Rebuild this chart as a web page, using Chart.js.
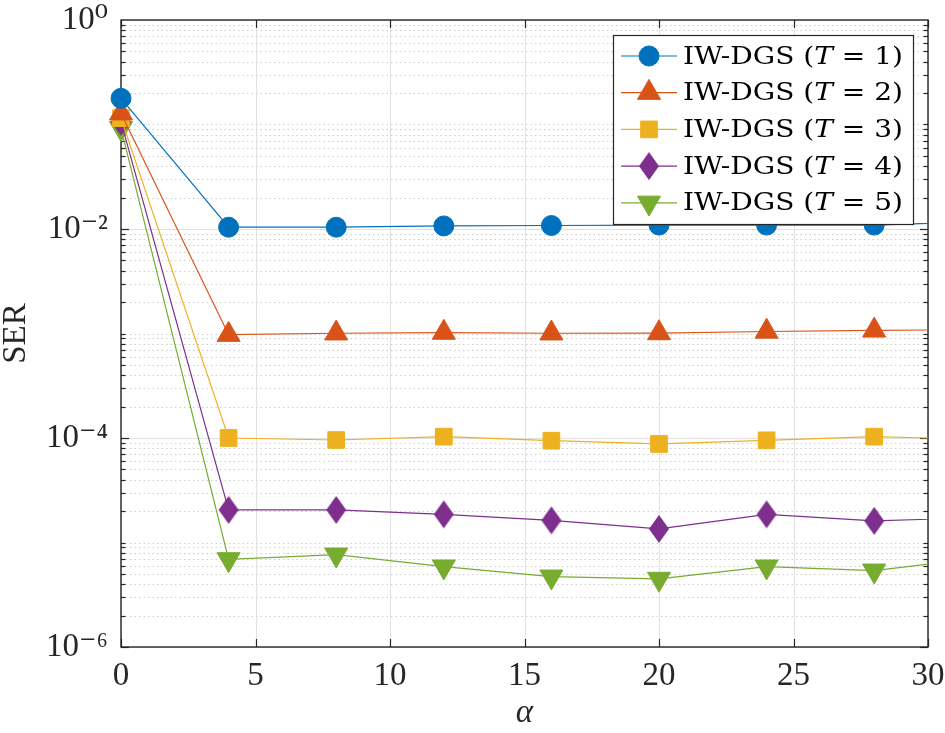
<!DOCTYPE html>
<html>
<head>
<meta charset="utf-8">
<script src="https://cdn.jsdelivr.net/npm/chart.js@4.4.1/dist/chart.umd.min.js"></script>
<style>
  html, body { margin: 0; padding: 0; background: #fff; }
</style>
</head>
<body>
<canvas id="serChart" width="945" height="733"></canvas>
<script>
// values (x = alpha, y = SER)
const alphaValues = [0, 4, 8, 12, 16, 20, 24, 28, 32];
const serT1 = [0.178, 0.0104, 0.0104, 0.0107, 0.0108, 0.0109, 0.0109, 0.0109, 0.0118];
const serT2 = [0.128, 9.74e-4, 1.005e-3, 1.02e-3, 1.005e-3, 1.01e-3, 1.045e-3, 1.07e-3, 1.09e-3];
const serT3 = [0.115, 1.0e-4, 9.57e-5, 1.03e-4, 9.42e-5, 8.77e-5, 9.5e-5, 1.03e-4, 9.7e-5];
const serT4 = [0.106, 2.05e-5, 2.05e-5, 1.86e-5, 1.63e-5, 1.35e-5, 1.86e-5, 1.61e-5, 1.73e-5];
const serT5 = [0.092, 6.9e-6, 7.64e-6, 5.87e-6, 4.71e-6, 4.48e-6, 5.87e-6, 5.37e-6, 7.2e-6];
const seriesT = ["1", "2", "3", "4", "5"];

const xTicks = [0, 5, 10, 15, 20, 25, 30];
const yTickValues = [1e-6, 1e-4, 1e-2, 1];
const yTickLabels = ["10⁻⁶", "10⁻⁴", "10⁻²", "10⁰"];

const serif = "'Liberation Serif', 'DejaVu Serif', serif";
const legendFont = "'DejaVu Serif', 'Liberation Serif', serif";
const axisColor = "#262626";

// MATLAB-like tall diamond
function diamondCanvas(color) {
  const c = document.createElement("canvas");
  c.width = 22;
  c.height = 30;
  const g = c.getContext("2d");
  g.fillStyle = color;
  g.beginPath();
  g.moveTo(11, 1);
  g.lineTo(21, 15);
  g.lineTo(11, 29);
  g.lineTo(1, 15);
  g.closePath();
  g.fill();
  return c;
}

const styles = [
  { color: "#0072BD", point: "circle", radius: 10, rotation: 0 },
  { color: "#D95319", point: "triangle", radius: 13.3, rotation: 0 },
  { color: "#EDB120", point: "rect", radius: 11.8, rotation: 0 },
  { color: "#7E2F8E", point: diamondCanvas("#7E2F8E"), radius: 10, rotation: 0 },
  { color: "#77AC30", point: "triangle", radius: 13.3, rotation: 180 },
];

const allSeries = [serT1, serT2, serT3, serT4, serT5];

const datasets = allSeries.map((vals, i) => ({
  label: "IW-DGS (T = " + seriesT[i] + ")",
  data: alphaValues.map((a, k) => ({ x: a, y: vals[k] })),
  borderColor: styles[i].color,
  backgroundColor: styles[i].color,
  borderWidth: 1.2,
  pointStyle: styles[i].point,
  pointRadius: styles[i].radius,
  pointRotation: styles[i].rotation,
  pointBorderWidth: 1,
  pointBorderColor: styles[i].color,
  pointBackgroundColor: styles[i].color,
  tension: 0,
  clip: { left: false, top: false, right: 0, bottom: false },
}));

function hline(ctx, x0, x1, y) {
  ctx.beginPath();
  ctx.moveTo(x0, y);
  ctx.lineTo(x1, y);
  ctx.stroke();
}
function vline(ctx, x, y0, y1) {
  ctx.beginPath();
  ctx.moveTo(x, y0);
  ctx.lineTo(x, y1);
  ctx.stroke();
}

// grid, box and inward ticks, drawn under the data like MATLAB
const axesFrame = {
  id: "axesFrame",
  beforeDatasetsDraw(chart) {
    const { ctx, chartArea: a, scales } = chart;
    const x = scales.x, y = scales.y;
    ctx.save();
    ctx.lineWidth = 1;

    // dotted minor grid
    ctx.strokeStyle = "#cccccc";
    ctx.setLineDash([1.5, 3]);
    for (let e = -6; e < 0; e++) {
      for (let m = 1; m < 10; m++) {
        if (m === 1 && e % 2 === 0) continue;
        const py = Math.round(y.getPixelForValue(m * Math.pow(10, e))) + 0.5;
        hline(ctx, a.left, a.right, py);
      }
    }

    // solid major grid
    ctx.setLineDash([]);
    ctx.strokeStyle = "#e1e1e1";
    xTicks.forEach((v) => {
      const px = Math.round(x.getPixelForValue(v)) + 0.5;
      vline(ctx, px, a.top, a.bottom);
    });
    yTickValues.forEach((v) => {
      const py = Math.round(y.getPixelForValue(v)) + 0.5;
      hline(ctx, a.left, a.right, py);
    });

    // ticks
    ctx.strokeStyle = axisColor;
    ctx.lineWidth = 1.2;
    xTicks.forEach((v) => {
      const px = Math.round(x.getPixelForValue(v)) + 0.5;
      vline(ctx, px, a.bottom, a.bottom - 8);
      vline(ctx, px, a.top, a.top + 8);
    });
    for (let e = -6; e < 0; e++) {
      for (let m = 1; m < 10; m++) {
        const v = m * Math.pow(10, e);
        const len = m === 1 && e % 2 === 0 ? 8 : 4.5;
        const py = Math.round(y.getPixelForValue(v)) + 0.5;
        hline(ctx, a.left, a.left + len, py);
        hline(ctx, a.right, a.right - len, py);
      }
    }

    // box
    ctx.lineWidth = 1.4;
    ctx.strokeRect(a.left, a.top, a.right - a.left, a.bottom - a.top);
    ctx.restore();
  },
};

function drawMarker(ctx, s, cx, cy) {
  ctx.save();
  ctx.fillStyle = s.color;
  ctx.strokeStyle = s.color;
  ctx.lineWidth = 1;
  ctx.beginPath();
  if (s.point === "circle") {
    ctx.arc(cx, cy, s.radius, 0, Math.PI * 2);
  } else if (s.point === "triangle") {
    let rad = (s.rotation * Math.PI) / 180;
    for (let k = 0; k < 3; k++) {
      const px = cx + Math.sin(rad) * s.radius;
      const py = cy - Math.cos(rad) * s.radius;
      if (k === 0) ctx.moveTo(px, py);
      else ctx.lineTo(px, py);
      rad += (2 * Math.PI) / 3;
    }
    ctx.closePath();
  } else if (s.point === "rect") {
    const h = Math.SQRT1_2 * s.radius;
    ctx.rect(cx - h, cy - h, 2 * h, 2 * h);
  } else {
    ctx.drawImage(s.point, cx - s.point.width / 2, cy - s.point.height / 2);
    ctx.restore();
    return;
  }
  ctx.fill();
  ctx.stroke();
  ctx.restore();
}

// legend box inside the axes, top right
const boxLegend = {
  id: "boxLegend",
  afterDatasetsDraw(chart) {
    const ctx = chart.ctx;
    const left = 613, top = 35, right = 913, bottom = 224;
    const textWidth = 220;
    ctx.save();
    ctx.fillStyle = "#ffffff";
    ctx.fillRect(left, top, right - left, bottom - top);
    ctx.strokeStyle = axisColor;
    ctx.lineWidth = 1.2;
    ctx.strokeRect(left + 0.5, top + 0.5, right - left, bottom - top);

    const rowH = 36.7;
    seriesT.forEach((t, i) => {
      const cy = 56 + i * rowH;
      const s = styles[i];
      ctx.strokeStyle = s.color;
      ctx.lineWidth = 1.2;
      hline(ctx, 621, 677, cy);
      drawMarker(ctx, s, 649, cy);

      const parts = [
        ["IW-DGS (", "normal"],
        ["T", "italic"],
        [" = " + t + ")", "normal"],
      ];
      // measure, then stretch a little to the width of the original labels
      let w = 0;
      parts.forEach(([txt, st]) => {
        ctx.font = st + " 25px " + legendFont;
        w += ctx.measureText(txt).width;
      });
      ctx.save();
      ctx.translate(683, cy + 1);
      ctx.scale(textWidth / w, 1);
      ctx.fillStyle = "#000";
      ctx.textBaseline = "middle";
      ctx.textAlign = "left";
      let tx = 0;
      parts.forEach(([txt, st]) => {
        ctx.font = st + " 25px " + legendFont;
        ctx.fillText(txt, tx, 0);
        tx += ctx.measureText(txt).width;
      });
      ctx.restore();
    });
    ctx.restore();
  },
};

const config = {
  type: "line",
  data: { datasets },
  options: {
    responsive: false,
    animation: false,
    layout: { padding: { top: 20, right: 17, left: 0, bottom: 0 } },
    plugins: { legend: { display: false }, tooltip: { enabled: false } },
    scales: {
      x: {
        type: "linear",
        min: 0,
        max: 30,
        afterFit: (s) => {
          s.height = 86;
          s.paddingLeft = 0;
          s.paddingRight = 0;
        },
        afterBuildTicks: (s) => { s.ticks = xTicks.map((v) => ({ value: v })); },
        grid: { display: false, drawTicks: false },
        border: { display: false },
        ticks: {
          color: axisColor,
          padding: 10,
          maxRotation: 0,
          font: { family: serif, size: 33 },
        },
        title: {
          display: true,
          text: "α",
          color: axisColor,
          padding: { top: 0, bottom: 0 },
          font: { family: serif, size: 33, style: "italic" },
        },
      },
      y: {
        type: "logarithmic",
        min: 1e-6,
        max: 1,
        afterFit: (s) => {
          s.width = 121;
          s.paddingTop = 0;
          s.paddingBottom = 0;
        },
        afterBuildTicks: (s) => { s.ticks = yTickValues.map((v) => ({ value: v })); },
        grid: { display: false, drawTicks: false },
        border: { display: false },
        ticks: {
          color: axisColor,
          padding: 13,
          autoSkip: false,
          font: { family: serif, size: 33 },
          callback: (v) => {
            const i = yTickValues.findIndex((t) => Math.abs(Math.log10(t) - Math.log10(v)) < 1e-6);
            return i >= 0 ? yTickLabels[i] : "";
          },
        },
        title: {
          display: true,
          text: "SER",
          color: axisColor,
          padding: 0,
          font: { family: serif, size: 33, lineHeight: 1.0 },
        },
      },
    },
  },
  plugins: [axesFrame, boxLegend],
};

const serChart = new Chart(document.getElementById("serChart"), config);
</script>
</body>
</html>
